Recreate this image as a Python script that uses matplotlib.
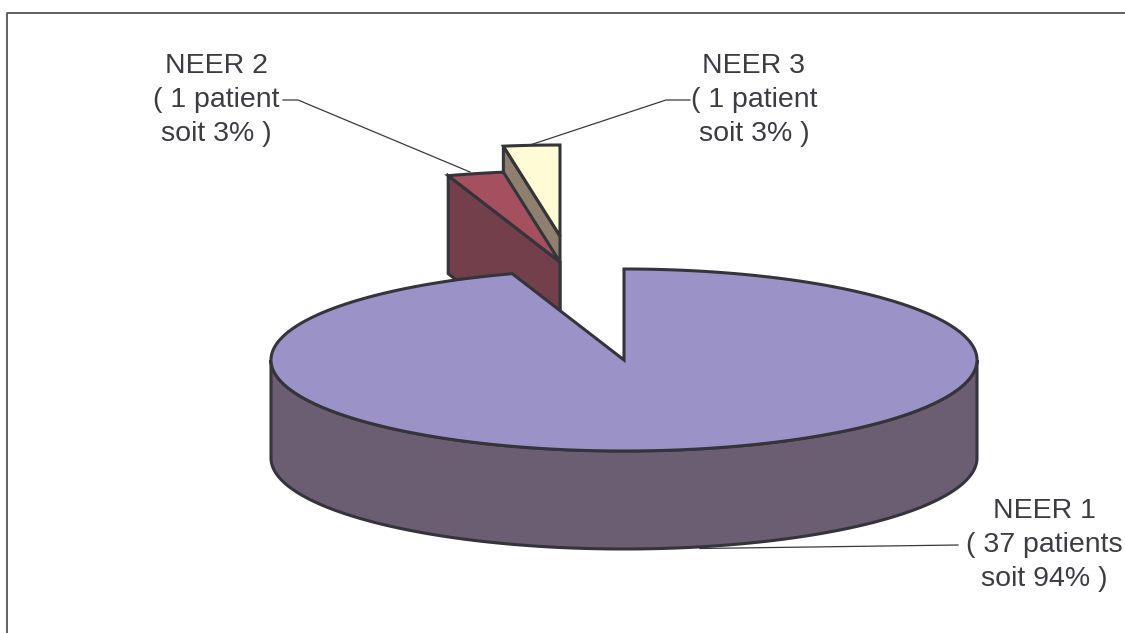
import numpy as np
import matplotlib
matplotlib.use("Agg")
import matplotlib.pyplot as plt
from matplotlib.patches import Polygon

categories = ["NEER 1", "NEER 2", "NEER 3"]
patients = [37, 1, 1]
percent_labels = ["94%", "3%", "3%"]

TOP = "#9B93C8", "#A5505F", "#FFFBD5"
SIDE = "#6B5D72", "#723F4A", "#8F7F6F"
EDGE = "#34343A"
TEXT = "#3C3C42"

RX, RY, DEPTH = 353, 91, 98
CENTERS = [(624, 360), (560, 262), (560, 236)]

fig = plt.figure(figsize=(11.25, 6.33), dpi=100)
ax = fig.add_axes([0, 0, 1, 1])
ax.set_xlim(0, 1125)
ax.set_ylim(633, 0)
ax.axis("off")

# Chart frame: only the top and left rules are visible
ax.plot([6.5, 6.5, 1125], [633, 12.5, 12.5], color="#555555", lw=1.3, zorder=1)


def rim(center, start, stop, n=200):
    """Points on the ellipse, angles clockwise from twelve o'clock."""
    t = np.radians(np.linspace(start, stop, n))
    return np.column_stack([center[0] + RX * np.sin(t), center[1] - RY * np.cos(t)])


def face(points, color, z):
    ax.add_patch(Polygon(points, closed=True, facecolor=color, edgecolor=EDGE,
                         lw=2.2, joinstyle="miter", zorder=z))


# Wedge extents in degrees, clockwise from the top
sweeps = np.array(patients) / sum(patients) * 360
stops = np.cumsum(sweeps)
starts = stops - sweeps
down = np.array([0, DEPTH])

# Third slice: rear-most, pulled out of the pie
c3 = np.array(CENTERS[2], float)
a3 = rim(c3, starts[2], stops[2])
face([a3[0], c3, c3 + down, a3[0] + down], SIDE[2], 3)
face(np.vstack([c3, a3]), TOP[2], 4)

# Second slice sits in front of the third
c2 = np.array(CENTERS[1], float)
a2 = rim(c2, starts[1], stops[1])
face([a2[0], c2, c2 + down, a2[0] + down], SIDE[1], 5)
face(np.vstack([c2, a2]), TOP[1], 6)

# Main slice: extruded outer wall, then the top surface
c1 = np.array(CENTERS[0], float)
wall = rim(c1, 90, 270)
face(np.vstack([wall, (wall + down)[::-1]]), SIDE[0], 7)
a1 = rim(c1, starts[0], stops[0], 500)
face(np.vstack([c1, a1]), TOP[0], 8)

# Leader lines from the labels to their slices
leader = dict(color="#3A3A3A", lw=0.9, zorder=2)
ax.plot([283, 298, 470], [100, 100, 172], **leader)
ax.plot([690, 666, 527], [100, 100, 146], **leader)
ax.plot([958, 700], [545, 548.5], **leader)

units = ["patients" if n > 1 else "patient" for n in patients]
label_pos = [(1044, 545), (216, 100), (754, 100)]
for name, n, unit, pct, (x, y) in zip(categories, patients, units, percent_labels, label_pos):
    ax.text(x, y, f"{name}\n( {n} {unit}\nsoit {pct} )", ha="center", va="center",
            multialignment="center", family="Liberation Sans", fontsize=20.5,
            color=TEXT, linespacing=1.42, zorder=10)

fig.savefig("out.png", dpi=100)
